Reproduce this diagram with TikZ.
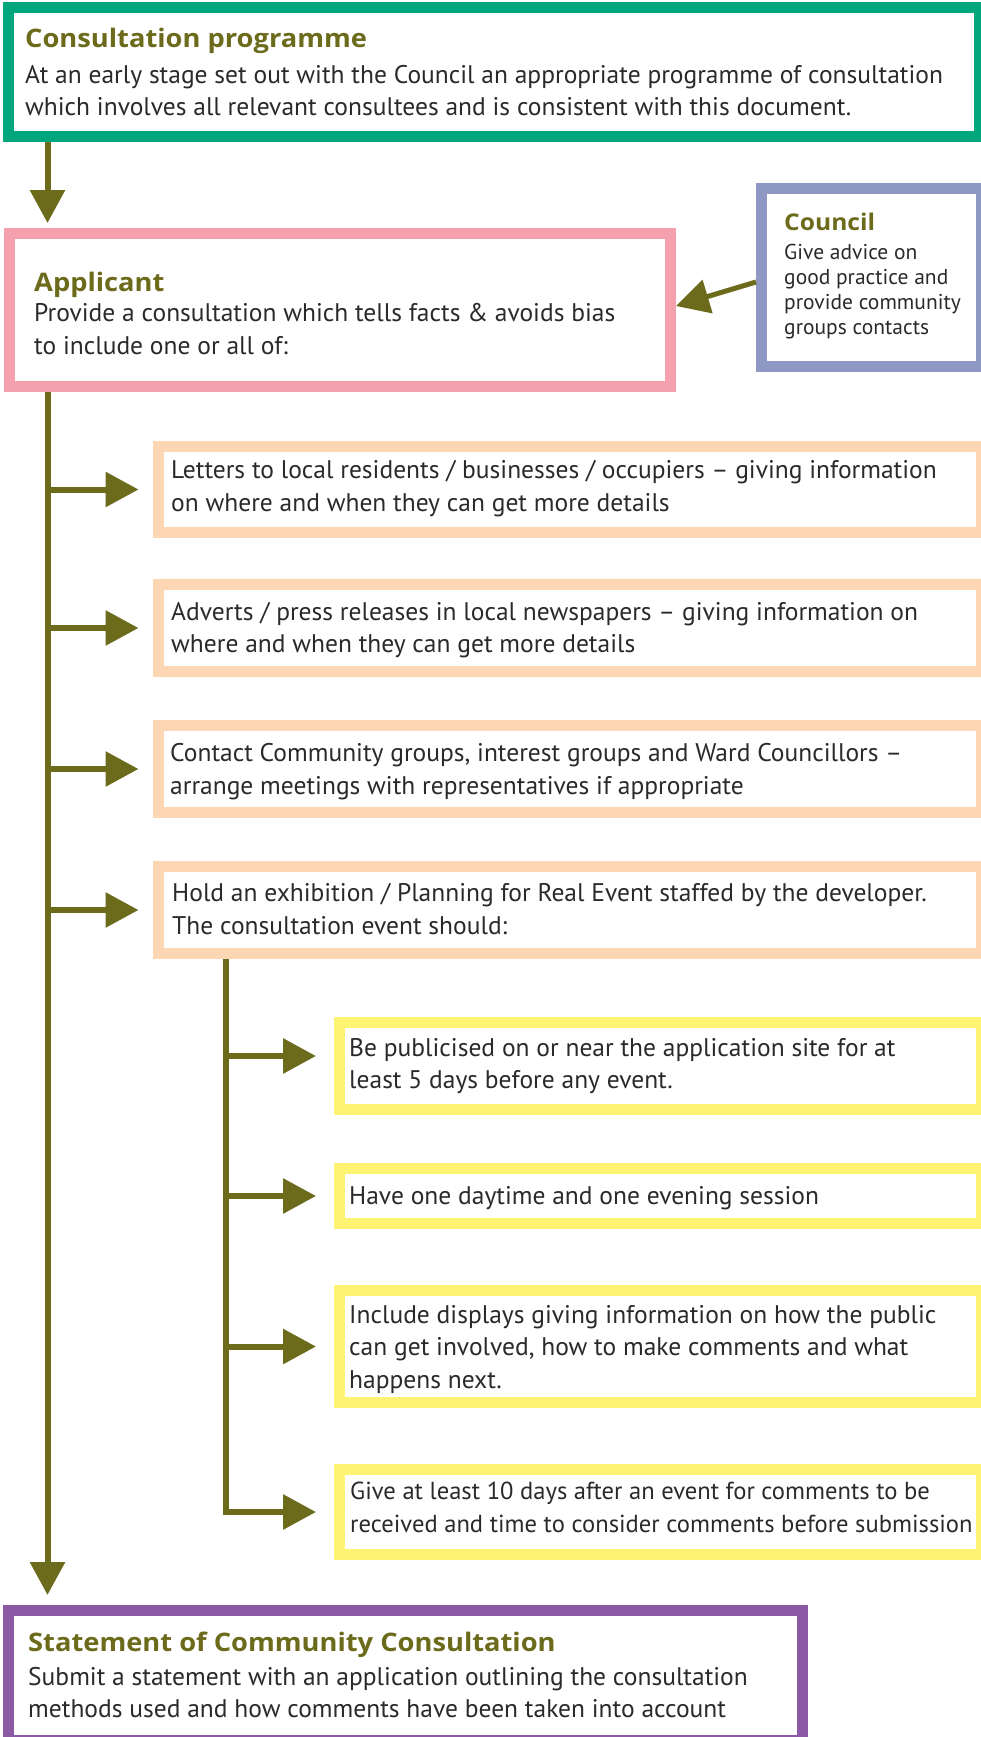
\documentclass[tikz,border=0pt]{standalone}
\usepackage{fontspec}
\setmainfont{PT Sans}
\newfontfamily\headfam{Open Sans}[FakeStretch=1.07]
\usetikzlibrary{arrows.meta}
\definecolor{cgreen}{HTML}{00A77C}
\definecolor{cpink}{HTML}{F5A0AF}
\definecolor{clav}{HTML}{8F98C2}
\definecolor{cpeach}{HTML}{FDD7B4}
\definecolor{cyell}{HTML}{FFF372}
\definecolor{cpurp}{HTML}{8C59A4}
\definecolor{colv}{HTML}{6C6A1B}
\definecolor{ctext}{HTML}{2B2A29}
\newcommand\bodyf{\fontsize{25.5}{32.5}\selectfont}
\newcommand\tightbodyf{\fontsize{24.6}{32.5}\selectfont}
\newcommand\titlef{\headfam\bfseries\fontsize{25.5}{32.5}\selectfont}
\newcommand\smallbodyf{\fontsize{21.5}{24.7}\selectfont}
\newcommand\smalltitlef{\headfam\bfseries\fontsize{23}{28}\selectfont}
\begin{document}
\begin{tikzpicture}[x=1pt,y=-1pt,
  box/.style={draw, line width=11pt, fill=white, inner sep=0pt, outer sep=5.5pt, anchor=north west, rectangle},
  txt/.style={anchor=base west, inner sep=0pt, align=left, text=ctext},
  ttl/.style={anchor=base west, inner sep=0pt, align=left, text=colv},
  arr/.style={draw=colv, line width=6pt, -{Triangle[length=33pt,width=34pt]}, colv},
  plain/.style={draw=colv, line width=6pt}]
\useasboundingbox (0,0) rectangle (980,1737);
\coordinate (tx) at (47.5,0);
\coordinate (sx) at (226,0);
% boxes
\node[box, draw=cgreen, minimum width=971pt, minimum height=129pt] (prog) at (3,2) {};
\node[box, draw=cpink, minimum width=661pt, minimum height=153pt] (app) at (4,228) {};
\node[box, draw=clav, minimum width=220pt, minimum height=178pt] (coun) at (756,183) {};
\node[box, draw=cpeach, minimum width=823pt, minimum height=86pt] (p1) at (153,441) {};
\node[box, draw=cpeach, minimum width=823pt, minimum height=87pt] (p2) at (153,579) {};
\node[box, draw=cpeach, minimum width=823pt, minimum height=87pt] (p3) at (153,720) {};
\node[box, draw=cpeach, minimum width=823pt, minimum height=87pt] (p4) at (153,861) {};
\node[box, draw=cyell, minimum width=642pt, minimum height=87pt] (y1) at (334,1017) {};
\node[box, draw=cyell, minimum width=642pt, minimum height=55pt] (y2) at (334,1163) {};
\node[box, draw=cyell, minimum width=642pt, minimum height=112pt] (y3) at (334,1285) {};
\node[box, draw=cyell, minimum width=642pt, minimum height=85pt] (y4) at (334,1464) {};
\node[box, draw=cpurp, minimum width=794pt, minimum height=130pt] (stmt) at (3,1605) {};
% connectors
\draw[arr, shorten >=5pt] (prog.south -| tx) -- (app.north -| tx);
\draw[arr, shorten >=10pt] (app.south -| tx) -- (stmt.north -| tx);
\draw[arr, line width=5pt] ([yshift=-4.5pt]coun.west) -- ([yshift=4pt]app.east);
\draw[arr, shorten >=14.5pt] (tx |- p1.west) -- (p1.west);
\draw[arr, shorten >=14.5pt] (tx |- p2.west) -- (p2.west);
\draw[arr, shorten >=14.5pt] (tx |- p3.west) -- (p3.west);
\draw[arr, shorten >=14.5pt] (tx |- p4.west) -- (p4.west);
\draw[plain] (p4.south -| sx) -- (sx |- y3.west);
\draw[arr, shorten >=18pt] (sx |- y1.west) ++(0,-10) -- ([yshift=10pt]y1.west);
\draw[arr, shorten >=18pt] (sx |- y2.west) -- (y2.west);
\draw[arr, shorten >=18pt] (sx |- y3.west) -- (y3.west);
\draw[arr, shorten >=18pt] (sx |- y3.west) |- (y4.west);
% texts (base anchor = baseline of the last line)
\node[ttl, font=\titlef] (progh) at (25,48) {Consultation programme};
\node[txt, font=\bodyf] (progb) at (25,115.5) {At an early stage set out with the Council an appropriate programme of consultation\\which involves all relevant consultees and is consistent with this document.};
\node[ttl, font=\titlef] (apph) at (34,291) {Applicant};
\node[txt, font=\bodyf] (appb) at (34,354) {Provide a consultation which tells facts \& avoids bias\\to include one or all of:};
\node[ttl, font=\smalltitlef] (counh) at (784,230) {Council};
\node[txt, font=\smallbodyf] (counb) at (784,334) {Give advice on\\good practice and\\provide community\\groups contacts};
\node[txt, font=\bodyf] (p1t) at (171,511) {Letters to local residents / businesses / occupiers – giving information\\on where and when they can get more details};
\node[txt, font=\bodyf] (p2t) at (171,652.5) {Adverts / press releases in local newspapers – giving information on\\where and when they can get more details};
\node[txt, font=\bodyf] (p3t) at (170,794) {Contact Community groups, interest groups and Ward Councillors –\\arrange meetings with representatives if appropriate};
\node[txt, font=\bodyf] (p4t) at (172,934) {Hold an exhibition / Planning for Real Event staffed by the developer.\\The consultation event should:};
\node[txt, font=\bodyf] (y1t) at (349,1088.5) {Be publicised on or near the application site for at\\least 5 days before any event.};
\node[txt, font=\bodyf] (y2t) at (349,1204) {Have one daytime and one evening session};
\node[txt, font=\bodyf] (y3t) at (349,1388) {Include displays giving information on how the public\\can get involved, how to make comments and what\\happens next.};
\node[txt, font=\tightbodyf] (y4t) at (350,1532) {Give at least 10 days after an event for comments to be\\received and time to consider comments before submission};
\node[ttl, font=\titlef] (stmth) at (28,1651) {Statement of Community Consultation};
\node[txt, font=\bodyf] (stmtb) at (28,1717.5) {Submit a statement with an application outlining the consultation\\methods used and how comments have been taken into account};
\end{tikzpicture}
\end{document}
